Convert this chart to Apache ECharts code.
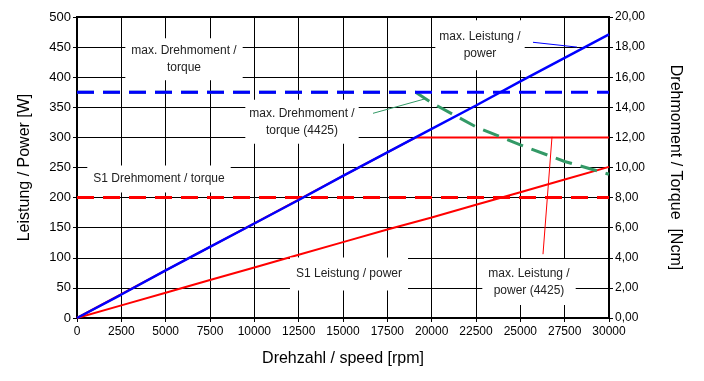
<!DOCTYPE html>
<html><head><meta charset="utf-8">
<script src="https://cdn.jsdelivr.net/npm/echarts@6/dist/echarts.min.js"></script>
<style>html,body{margin:0;padding:0;background:#fff}#c{width:704px;height:381px}</style>
</head><body><div id="c"></div>
<script>
// Data
const speed = [0, 2500, 5000, 7500, 10000, 12500, 15000, 17500, 20000, 22500, 25000, 27500, 30000];
const maxPower = [0, 39, 79, 118, 157, 196, 236, 275, 314, 353, 393, 432, 471];           // W
const s1Power = [0, 21, 42, 63, 84, 105, 126, 147, 167, 188, 209, 230, 251];             // W
const maxTorque = [15, 15, 15, 15, 15, 15, 15, 15, 15, 15, 15, 15, 15];                   // Ncm
const s1Torque = [8, 8, 8, 8, 8, 8, 8, 8, 8, 8, 8, 8, 8];                                  // Ncm
const speed4425 = [0, 5000, 10000, 15000, 19100, 20000, 22500, 25000, 27500, 30000];
const maxPower4425 = [0, 79, 157, 236, 300, 300, 300, 300, 300, 300];                      // W
const maxTorque4425 = [15, 15, 15, 15, 15, 14.3, 12.7, 11.5, 10.4, 9.55];                  // Ncm
const leftTicks = {min: 0, max: 500, interval: 50};
const rightTicks = {min: 0, max: 20, interval: 2};
const xTicks = {min: 0, max: 30000, interval: 2500};

// Annotations: [text, speed, power, padding]
const notes = [
  ['max. Drehmoment /\ntorque', 6034, 430, [4, 6]],
  ['max. Leistung /\npower', 22726, 453, [8, 4]],
  ['max. Drehmoment /\ntorque (4425)', 12688, 326, [5, 4]],
  ['S1 Drehmoment / torque', 4624, 231, [5, 6]],
  ['S1 Leistung / power', 15338, 73, [8, 6]],
  ['max. Leistung /\npower (4425)', 25489, 60, [6, 6]]
];
// Leader lines: [[speed, power], [speed, power], colour]
const leaders = [
  [[25714, 458], [28195, 450], '#0000ff'],
  [[16692, 340], [19624, 364], '#339966'],
  [[26786, 301], [26278, 106], '#ff0000']
];

const pair = (xs, ys) => xs.map((x, i) => [x, ys[i]]);
const F = 'Liberation Sans, Arial, sans-serif';
const chart = echarts.init(document.getElementById('c'), null, {renderer: 'canvas'});
const option = {
  animation: false,
  backgroundColor: '#fff',
  grid: {left: 77, right: 95, top: 17, bottom: 63, show: true, borderColor: '#000', borderWidth: 2},
  xAxis: {
    type: 'value', min: xTicks.min, max: xTicks.max, interval: xTicks.interval,
    name: 'Drehzahl / speed [rpm]', nameLocation: 'middle', nameGap: 33,
    nameTextStyle: {fontFamily: F, fontSize: 16, color: '#000'},
    axisLine: {lineStyle: {color: '#000', width: 2}},
    axisTick: {show: true, length: 4, lineStyle: {color: '#000'}},
    axisLabel: {fontFamily: F, fontSize: 12, color: '#000', margin: 8, formatter: v => String(v)},
    splitLine: {show: true, lineStyle: {color: '#000', width: 1}}
  },
  yAxis: [{
    type: 'value', min: leftTicks.min, max: leftTicks.max, interval: leftTicks.interval,
    name: 'Leistung / Power [W]', nameLocation: 'middle', nameGap: 44,
    nameTextStyle: {fontFamily: F, fontSize: 16, color: '#000'},
    axisLine: {show: true, lineStyle: {color: '#000', width: 2}},
    axisTick: {show: true, length: 4, lineStyle: {color: '#000'}},
    axisLabel: {fontFamily: F, fontSize: 13, color: '#000', margin: 6},
    splitLine: {show: true, lineStyle: {color: '#000', width: 1}}
  }, {
    type: 'value', min: rightTicks.min, max: rightTicks.max, interval: rightTicks.interval,
    name: 'Drehmoment / Torque  [Ncm]', nameLocation: 'middle', nameGap: 58, nameRotate: -90,
    nameTextStyle: {fontFamily: F, fontSize: 16, color: '#000'},
    axisLine: {show: true, lineStyle: {color: '#000', width: 2}},
    axisTick: {show: true, length: 4, lineStyle: {color: '#000'}},
    axisLabel: {fontFamily: F, fontSize: 12, color: '#000', margin: 6,
      formatter: v => v.toFixed(2).replace('.', ',')},
    splitLine: {show: false}
  }],
  series: [
    {name: 'S1 Drehmoment', type: 'line', yAxisIndex: 1, data: pair(speed, s1Torque), symbol: 'none',
      lineStyle: {color: '#ff0000', width: 3, type: [17, 9]}},
    {name: 'S1 Leistung', type: 'line', data: pair(speed, s1Power), symbol: 'none',
      lineStyle: {color: '#ff0000', width: 2}},
    {name: 'max. Leistung 4425', type: 'line', data: pair(speed4425, maxPower4425), symbol: 'none',
      lineStyle: {color: '#ff0000', width: 2}},
    {name: 'max. Drehmoment 4425', type: 'line', yAxisIndex: 1, data: pair(speed4425, maxTorque4425), symbol: 'none',
      lineStyle: {color: '#339966', width: 3, type: [17, 9]}},
    {name: 'max. Drehmoment', type: 'line', yAxisIndex: 1, data: pair(speed, maxTorque), symbol: 'none',
      lineStyle: {color: '#0000ff', width: 3, type: [17, 9]}},
    {name: 'max. Leistung', type: 'line', data: pair(speed, maxPower), symbol: 'none',
      lineStyle: {color: '#0000ff', width: 2.5}}
  ]
};
chart.setOption(option);

const toPx = p => chart.convertToPixel({xAxisIndex: 0, yAxisIndex: 0}, p);
const graphics = [];
notes.forEach(n => {
  const p = toPx([n[1], n[2]]);
  graphics.push({type: 'text', x: p[0], y: p[1], z: 100,
    style: {text: n[0], align: 'center', verticalAlign: 'middle', font: '12px ' + F, fill: '#222',
      lineHeight: 17, backgroundColor: '#fff', padding: n[3]}});
});
leaders.forEach(l => {
  const a = toPx(l[0]), b = toPx(l[1]);
  graphics.push({type: 'line', z: 101, shape: {x1: a[0], y1: a[1], x2: b[0], y2: b[1]},
    style: {stroke: l[2], lineWidth: 1}});
});
chart.setOption({graphic: graphics});
</script></body></html>
